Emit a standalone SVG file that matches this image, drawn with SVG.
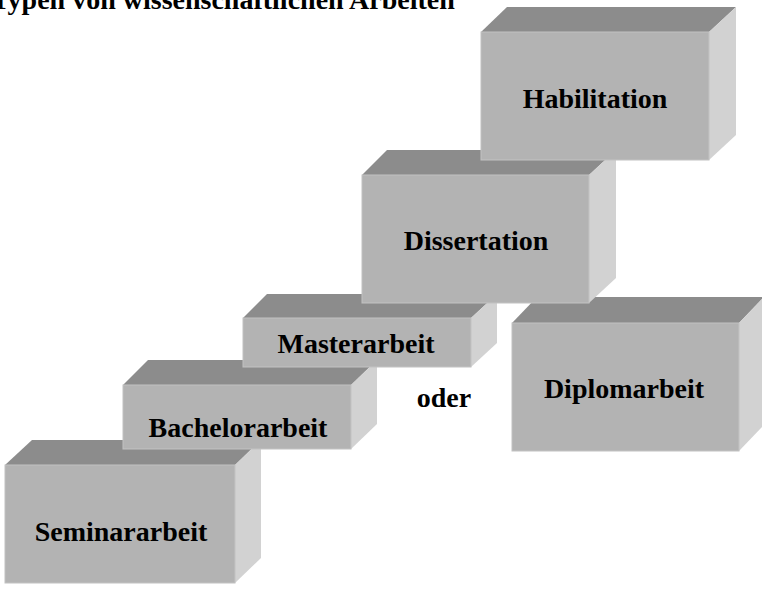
<svg xmlns="http://www.w3.org/2000/svg" width="762" height="593" viewBox="0 0 762 593">
<style>
  .front { fill: #b3b3b3; stroke: #c2c2c2; stroke-width: 1; }
  .top { fill: #8c8c8c; }
  .side { fill: #d2d2d2; }
  .lbl { font-family: "Liberation Serif", "Times New Roman", serif; font-weight: bold; font-size: 28px; fill: #000; text-anchor: middle; }
</style>
<rect width="762" height="593" fill="#ffffff"/>
<text x="-9" y="9" class="lbl" style="text-anchor:start">Typen von wissenschaftlichen Arbeiten</text>

<g id="seminararbeit">
  <polygon class="top" points="5,465 32,440 261,440 235,465"/>
  <polygon class="side" points="235,465 261,440 261,558 235,583"/>
  <rect class="front" x="5" y="465" width="230" height="118"/>
  <text class="lbl" x="121" y="541">Seminararbeit</text>
</g>

<g id="bachelorarbeit">
  <polygon class="top" points="123,385 148,360 377,360 351,385"/>
  <polygon class="side" points="351,385 377,360 377,424 351,449"/>
  <rect class="front" x="123" y="385" width="228" height="64"/>
  <text class="lbl" x="238" y="437">Bachelorarbeit</text>
</g>

<g id="masterarbeit">
  <polygon class="top" points="243,318 267,294 497,294 471,318"/>
  <polygon class="side" points="471,318 497,294 497,343 471,367"/>
  <rect class="front" x="243" y="318" width="228" height="49"/>
  <text class="lbl" x="356" y="353">Masterarbeit</text>
</g>

<g id="diplomarbeit">
  <polygon class="top" points="512,323 537,297 764,297 739,323"/>
  <polygon class="side" points="739,323 764,297 764,425 739,451"/>
  <rect class="front" x="512" y="323" width="227" height="128"/>
  <text class="lbl" x="624" y="398">Diplomarbeit</text>
</g>

<g id="dissertation">
  <polygon class="top" points="362,175 387,150 616,150 589,175"/>
  <polygon class="side" points="589,175 616,150 616,278 589,303"/>
  <rect class="front" x="362" y="175" width="227" height="128"/>
  <text class="lbl" x="476" y="250">Dissertation</text>
</g>

<g id="habilitation">
  <polygon class="top" points="481,32 507,7 736,7 709,32"/>
  <polygon class="side" points="709,32 736,7 736,135 709,160"/>
  <rect class="front" x="481" y="32" width="228" height="128"/>
  <text class="lbl" x="595" y="108">Habilitation</text>
</g>

<g id="connectors">
  <text id="oder" class="lbl" x="444" y="407">oder</text>
</g>
</svg>
